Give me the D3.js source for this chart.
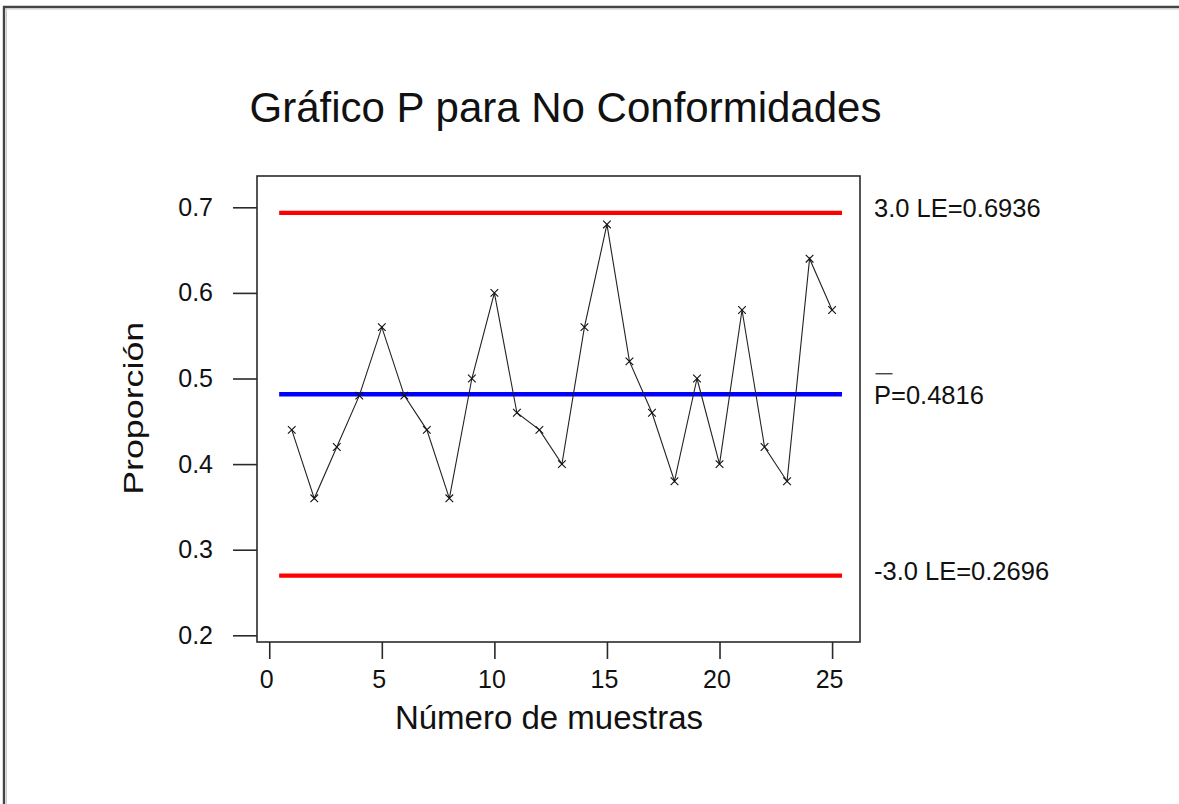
<!DOCTYPE html>
<html>
<head>
<meta charset="utf-8">
<script src="https://cdn.jsdelivr.net/npm/d3@7"></script>
<style>
  html, body { margin: 0; padding: 0; background: #fff; }
  svg { display: block; }
  text { font-family: "Liberation Sans", Arial, sans-serif; fill: #111; }
</style>
</head>
<body>
<svg id="chart" width="1179" height="804"></svg>
<script>
// ---- data ----
const samples = [1,2,3,4,5,6,7,8,9,10,11,12,13,14,15,16,17,18,19,20,21,22,23,24,25];
const proportions = [0.44,0.36,0.42,0.48,0.56,0.48,0.44,0.36,0.50,0.60,0.46,0.44,0.40,0.56,0.68,0.52,0.46,0.38,0.50,0.40,0.58,0.42,0.38,0.64,0.58];
const centerLine = 0.4816;
const upperLimit = 0.6936;
const lowerLimit = 0.2696;
const xTicks = [0,5,10,15,20,25];
const yTicks = [0.2,0.3,0.4,0.5,0.6,0.7];
const titleText = "Gráfico P para No Conformidades";
const xTitle = "Número de muestras";
const yTitle = "Proporción";

// ---- layout ----
const svg = d3.select("#chart");
const box = {left: 257, top: 176, right: 860, bottom: 642};

const x = d3.scaleLinear().domain([-0.544, 26.24]).range([box.left, box.right]);
const y = d3.scaleLinear().domain([0.2, 0.7]).range([635.3, 207.3]);

// outer frame
svg.append("path").attr("d", "M4,1200 L4,7 L1200,7")
  .attr("fill", "none").attr("stroke", "#444").attr("stroke-width", 2.4);
svg.append("path").attr("d", "M6.5,1200 L6.5,9 L1200,9")
  .attr("fill", "none").attr("stroke", "#ccc").attr("stroke-width", 1);

// plot box
svg.append("rect")
  .attr("x", box.left).attr("y", box.top)
  .attr("width", box.right - box.left).attr("height", box.bottom - box.top)
  .attr("fill", "none").attr("stroke", "#2a2a2a").attr("stroke-width", 1.6);

// axes
const yAxis = d3.axisLeft(y).tickValues(yTicks).tickSize(24).tickSizeOuter(0)
  .tickPadding(20).tickFormat(d3.format(".1f"));
const gy = svg.append("g").attr("transform", `translate(${box.left},0)`).call(yAxis);
gy.select(".domain").remove();
gy.selectAll(".tick line").attr("stroke", "#2a2a2a").attr("stroke-width", 1.6);
gy.selectAll(".tick text").attr("font-size", 25).attr("fill", "#333")
  .style("font-family", "'Liberation Sans', Arial, sans-serif");

const xAxisScale = d3.scaleLinear().domain(x.domain()).range(x.range());
const xAxis = d3.axisBottom(xAxisScale).tickValues(xTicks).tickSize(17).tickSizeOuter(0)
  .tickPadding(11).tickFormat(d3.format("d"));
const gx = svg.append("g").attr("transform", `translate(0,${box.bottom})`).call(xAxis);
gx.select(".domain").remove();
gx.selectAll(".tick line").attr("stroke", "#2a2a2a").attr("stroke-width", 1.6);
gx.selectAll(".tick text").attr("font-size", 25).attr("fill", "#333").attr("dx", -3)
  .style("font-family", "'Liberation Sans', Arial, sans-serif");

// control lines
const limitSpan = [samples[0] - 0.56, samples[samples.length - 1] + 0.44];
const limits = [
  {v: upperLimit, color: "#ff0000"},
  {v: centerLine, color: "#0000ff"},
  {v: lowerLimit, color: "#ff0000"}
];
svg.selectAll("line.limit").data(limits).enter().append("line")
  .attr("class", "limit")
  .attr("x1", x(limitSpan[0])).attr("x2", x(limitSpan[1]))
  .attr("y1", d => y(d.v)).attr("y2", d => y(d.v))
  .attr("stroke", d => d.color).attr("stroke-width", 4.3);

// data line
const pts = samples.map((s, i) => [s, proportions[i]]);
svg.append("path")
  .datum(pts)
  .attr("d", d3.line().x(d => x(d[0])).y(d => y(d[1])))
  .attr("fill", "none").attr("stroke", "#222").attr("stroke-width", 1.1);

svg.selectAll("path.pt").data(pts).enter().append("path")
  .attr("class", "pt")
  .attr("d", d3.symbol().type(d3.symbolX).size(40))
  .attr("transform", d => `translate(${x(d[0])},${y(d[1])})`)
  .attr("fill", "none").attr("stroke", "#111").attr("stroke-width", 1.1);

// right labels
const labelX = 874;
svg.append("text").attr("x", labelX).attr("y", y(upperLimit) + 4.5)
  .attr("font-size", 25.5).attr("fill", "#333")
  .text("3.0 LE=" + upperLimit.toFixed(4));
svg.append("text").attr("x", labelX).attr("y", y(lowerLimit) + 4.7)
  .attr("font-size", 25.5).attr("fill", "#333")
  .text("-3.0 LE=" + lowerLimit.toFixed(4));
const pLab = svg.append("text").attr("x", labelX).attr("y", y(centerLine) + 10.2)
  .attr("font-size", 25.5).attr("fill", "#333");
const pSpan = pLab.append("tspan").text("P");
pLab.append("tspan").text("=" + centerLine.toFixed(4));
const pW = pLab.node().getSubStringLength(0, 1);
svg.append("line")
  .attr("x1", labelX + 1.5).attr("x2", labelX + pW + 1.5)
  .attr("y1", y(centerLine) - 20.5).attr("y2", y(centerLine) - 20.5)
  .attr("stroke", "#333").attr("stroke-width", 1.3);

// titles
svg.append("text").attr("x", 565.5).attr("y", 121.5)
  .attr("text-anchor", "middle").attr("font-size", 42).attr("fill", "#111")
  .text(titleText);
svg.append("text").attr("x", 549).attr("y", 729.3)
  .attr("text-anchor", "middle").attr("font-size", 33).attr("fill", "#111")
  .text(xTitle);
svg.append("text")
  .attr("transform", "translate(143.3,408.3) rotate(-90)")
  .attr("text-anchor", "middle").attr("font-size", 27.5).attr("fill", "#111")
  .attr("textLength", 173).attr("lengthAdjust", "spacingAndGlyphs")
  .text(yTitle);
</script>
</body>
</html>
